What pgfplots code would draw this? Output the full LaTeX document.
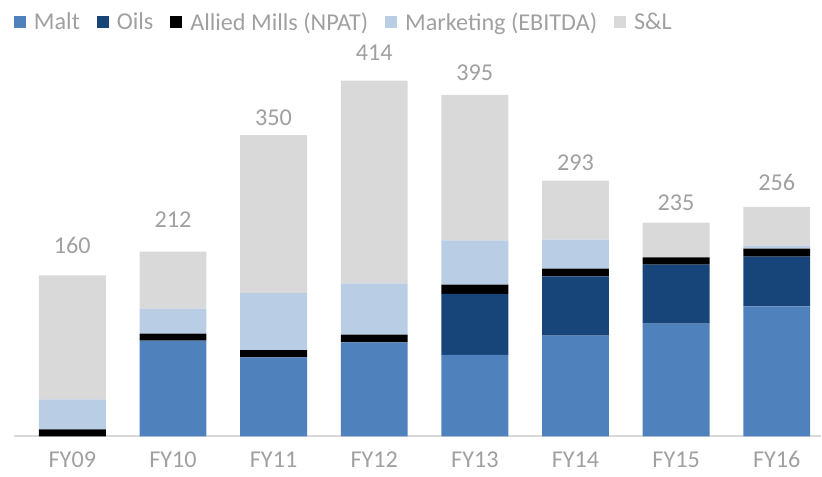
\documentclass[border=0pt]{standalone}
\usepackage{pgfplots}
\pgfplotsset{compat=1.18}
\usepackage{pgfplotstable}
\usepackage{fontspec}
\setmainfont{Carlito}
\definecolor{malt}{HTML}{4F81BD}
\definecolor{oils}{HTML}{17457A}
\definecolor{mkt}{HTML}{B9CDE5}
\definecolor{snl}{HTML}{D9D9D9}
\definecolor{txtgray}{HTML}{A0A0A0}
\definecolor{linegray}{HTML}{D9D9D9}
\pgfplotstableread{
x malt oils allied mkt snl
0 0     0    8.1  34.7 143.6
1 110.9 0    8.1  28.9 65.8
2 91.6  0    8.1  66.3 182.5
3 108.9 0    8.9  59.3 234.5
4 94.4  70.5 10.7 51.2 168.3
5 116.7 68.5 8.9  33.5 68.1
6 130.5 68.1 8.4  0    40.4
7 150.5 57.4 9.2  3.5  45.0
}\datatable
\pgfplotstableread{
x y lab
0 220.6 160
1 250.6 212
2 368.4 350
3 443.5 414
4 420.4 395
5 316.5 293
6 270.3 235
7 293.4 256
}\labtable
\newcommand{\chartfont}{\fontsize{24.3}{29}\selectfont}
\pgfplotsset{
  common/.style={
    scale only axis, width=808bp, height=397bp,
    xmin=-0.58, xmax=7.44, ymin=0, ymax=458.5,
    clip=false,
  }
}
\begin{document}
\begin{tikzpicture}
\begin{axis}[common, name=ax,
  ybar stacked, bar width=67bp,
  axis x line*=bottom, hide y axis,
  x axis line style={draw=linegray, line width=2bp, -},
  xtick={0,...,7},
  xticklabels={FY09,FY10,FY11,FY12,FY13,FY14,FY15,FY16},
  major tick length=0pt,
  xticklabel style={font=\chartfont, text=txtgray, yshift=-13bp, inner sep=2pt},
  legend columns=-1,
  legend image code/.code={\fill[#1] (0bp,-6bp) rectangle (12bp,6bp);},
  legend style={draw=none, fill=none, inner sep=0pt, outer sep=0pt,
    at={(rel axis cs:0,1)}, anchor=west, yshift=18bp,
    font=\chartfont, text=txtgray,
    nodes={inner sep=0pt},
    /tikz/every odd column/.append style={column sep=8bp},
    /tikz/every even column/.append style={column sep=17bp}},
]
\addplot[fill=malt, draw=none] table[x=x, y=malt] {\datatable};
\addlegendentry{Malt}
\addplot[fill=oils, draw=none] table[x=x, y=oils] {\datatable};
\addlegendentry{Oils}
\addplot[fill=black, draw=none] table[x=x, y=allied] {\datatable};
\addlegendentry{Allied Mills (NPAT)}
\addplot[fill=mkt, draw=none] table[x=x, y=mkt] {\datatable};
\addlegendentry{Marketing (EBITDA)}
\addplot[fill=snl, draw=none] table[x=x, y=snl] {\datatable};
\addlegendentry{S\&L}
\end{axis}
\begin{axis}[common, hide axis, at={(ax.south west)}, anchor=south west]
\addplot[draw=none, mark=none, nodes near coords, point meta=explicit symbolic,
  every node near coord/.style={anchor=center, font=\chartfont, text=txtgray}]
  table[x=x, y=y, meta=lab] {\labtable};
\end{axis}
\path ([xshift=-14bp,yshift=-40bp]ax.south west) rectangle ([yshift=40bp]ax.north east);
\end{tikzpicture}
\end{document}
